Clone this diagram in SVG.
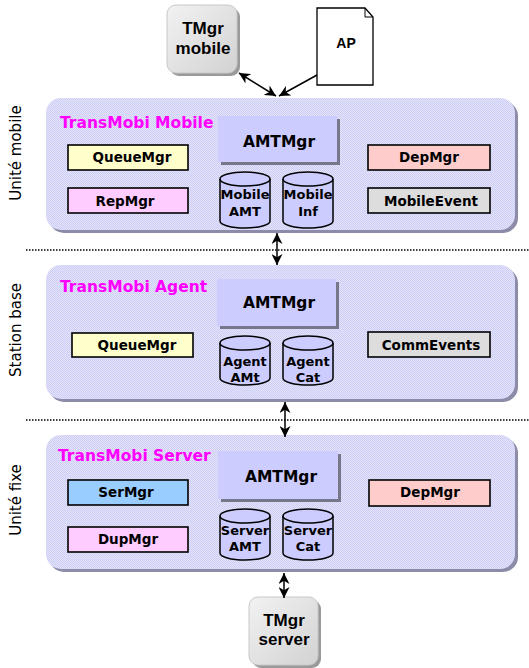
<svg xmlns="http://www.w3.org/2000/svg" width="529" height="668" viewBox="0 0 529 668">
<defs>
<pattern id="dots" width="2" height="2" patternUnits="userSpaceOnUse">
<rect width="2" height="2" fill="#E4E4FE"/>
<rect width="1" height="1" fill="#CDCDF2"/>
<rect x="1" y="1" width="1" height="1" fill="#CDCDF2"/>
</pattern>
<linearGradient id="gray" x1="0" y1="0" x2="1" y2="1">
<stop offset="0" stop-color="#F2F2F2"/>
<stop offset="1" stop-color="#D2D2D2"/>
</linearGradient>
<marker id="ah" viewBox="0 0 10 10" refX="10" refY="5" markerWidth="11" markerHeight="11" markerUnits="userSpaceOnUse" orient="auto-start-reverse">
<path d="M0,0 L10,5 L0,10 L3,5 z" fill="#000"/>
</marker>
<style>
.panelsh{fill:#8C8CA8}
.panel{fill:url(#dots)}
.title{font-family:"DejaVu Sans",Verdana,sans-serif;font-weight:bold;font-size:15.5px;fill:#FF00FF}
.amt{fill:#CCCCFF}
.amtsh{fill:#77778C}
.big{font-family:"DejaVu Sans",Verdana,sans-serif;font-weight:bold;font-size:15.5px;fill:#000;text-anchor:middle}
.box{stroke:#000;stroke-width:1.6}
.lbl{font-family:"DejaVu Sans",Verdana,sans-serif;font-weight:bold;font-size:13.5px;fill:#000;text-anchor:middle}
.cyl{fill:#CCCCFF;stroke:#000;stroke-width:1.5}
.cyt{font-family:"DejaVu Sans",Verdana,sans-serif;font-weight:bold;font-size:13px;fill:#000;text-anchor:middle}
.side{font-family:"DejaVu Sans",Verdana,sans-serif;font-size:15px;fill:#000;text-anchor:middle}
.tm{font-family:"Liberation Sans",Arial,sans-serif;font-weight:bold;font-size:17px;fill:#000;text-anchor:middle}
.dot{stroke:#000;stroke-width:1.5;stroke-dasharray:1.5 1.5;fill:none}
.con{stroke:#000;stroke-width:1.5;fill:none}
</style>
</defs>

<!-- side labels -->
<g id="side-labels">
<text class="side" transform="translate(21,153) rotate(-90)">Unité mobile</text>
<text class="side" transform="translate(21,330) rotate(-90)">Station base</text>
<text class="side" transform="translate(21,500) rotate(-90)">Unité fixe</text>
</g>

<!-- dotted separators -->
<g id="separators">
<line class="dot" x1="26" y1="250" x2="529" y2="250"/>
<line class="dot" x1="26" y1="420" x2="529" y2="420"/>
</g>

<!-- top external nodes -->
<g id="tmgr-mobile">
<rect x="170" y="8" width="70" height="68" rx="9" fill="#9A9A9A"/>
<rect x="167" y="5" width="70" height="68" rx="9" fill="url(#gray)" stroke="#C8C8C8" stroke-width="1"/>
<text class="tm" x="203" y="34">TMgr</text>
<text class="tm" x="203" y="54">mobile</text>
</g>
<g id="ap">
<path d="M317,8 H365 L373,17 V85 H317 Z" fill="#FFFFFF" stroke="#000" stroke-width="1.3"/>
<path d="M365,8 V17 H373" fill="none" stroke="#000" stroke-width="1"/>
<text x="346" y="48" font-family="Liberation Sans, Arial, sans-serif" font-weight="bold" font-size="14" text-anchor="middle">AP</text>
</g>

<!-- Panel 1 -->
<g id="panel-mobile">
<rect class="panelsh" x="49" y="101" width="469" height="132" rx="15"/>
<rect class="panel" x="46" y="98" width="469" height="132" rx="15"/>
<text class="title" x="60" y="128">TransMobi Mobile</text>
</g>
<g id="amtmgr-1">
<rect class="amtsh" x="221" y="119" width="119" height="46"/>
<rect class="amt" x="218" y="116" width="119" height="46"/>
<text class="big" x="279" y="147">AMTMgr</text>
</g>
<g id="queuemgr-1">
<rect class="box" x="68" y="145" width="120" height="25" fill="#FFFFCC"/>
<text class="lbl" x="132" y="162">QueueMgr</text>
</g>
<g id="repmgr-1">
<rect class="box" x="68" y="188" width="120" height="25" fill="#FFCCFF"/>
<text class="lbl" x="125" y="206">RepMgr</text>
</g>
<g id="depmgr-1">
<rect class="box" x="368" y="145" width="122" height="25" fill="#FFCCCC"/>
<text class="lbl" x="429" y="162">DepMgr</text>
</g>
<g id="mobileevent">
<rect class="box" x="368" y="188" width="122" height="25" fill="#DDDDDD"/>
<text class="lbl" x="431" y="206">MobileEvent</text>
</g>
<g id="mobile-amt">
<path class="cyl" d="M220,179 A25,7 0 0,1 270,179 V221 A25,7 0 0,1 220,221 Z"/>
<path class="cyl" d="M220,179 A25,7 0 0,0 270,179" fill="none"/>
<text class="cyt" x="245" y="199">Mobile</text>
<text class="cyt" x="245" y="216">AMT</text>
</g>
<g id="mobile-inf">
<path class="cyl" d="M283,179 A25,7 0 0,1 333,179 V221 A25,7 0 0,1 283,221 Z"/>
<path class="cyl" d="M283,179 A25,7 0 0,0 333,179" fill="none"/>
<text class="cyt" x="308" y="199">Mobile</text>
<text class="cyt" x="308" y="216">Inf</text>
</g>

<!-- Panel 2 -->
<g id="panel-agent">
<rect class="panelsh" x="49" y="268" width="469" height="134" rx="15"/>
<rect class="panel" x="46" y="265" width="469" height="134" rx="15"/>
<text class="title" x="60" y="292">TransMobi Agent</text>
</g>
<g id="amtmgr-2">
<rect class="amtsh" x="220" y="282" width="119" height="47"/>
<rect class="amt" x="217" y="279" width="119" height="47"/>
<text class="big" x="279" y="308">AMTMgr</text>
</g>
<g id="queuemgr-2">
<rect class="box" x="72" y="333" width="121" height="24" fill="#FFFFCC"/>
<text class="lbl" x="137" y="350">QueueMgr</text>
</g>
<g id="commevents">
<rect class="box" x="368" y="332" width="122" height="25" fill="#DDDDDD"/>
<text class="lbl" x="431" y="350">CommEvents</text>
</g>
<g id="agent-amt">
<path class="cyl" d="M220,343 A25,7 0 0,1 270,343 V378 A25,7 0 0,1 220,378 Z"/>
<path class="cyl" d="M220,343 A25,7 0 0,0 270,343" fill="none"/>
<text class="cyt" x="245" y="366">Agent</text>
<text class="cyt" x="245" y="382">AMt</text>
</g>
<g id="agent-cat">
<path class="cyl" d="M283,343 A25,7 0 0,1 333,343 V378 A25,7 0 0,1 283,378 Z"/>
<path class="cyl" d="M283,343 A25,7 0 0,0 333,343" fill="none"/>
<text class="cyt" x="308" y="366">Agent</text>
<text class="cyt" x="308" y="382">Cat</text>
</g>

<!-- Panel 3 -->
<g id="panel-server">
<rect class="panelsh" x="49" y="438" width="469" height="134" rx="15"/>
<rect class="panel" x="46" y="435" width="469" height="134" rx="15"/>
<text class="title" x="58" y="461">TransMobi Server</text>
</g>
<g id="amtmgr-3">
<rect class="amtsh" x="221" y="454" width="120" height="48"/>
<rect class="amt" x="218" y="451" width="120" height="48"/>
<text class="big" x="281" y="482">AMTMgr</text>
</g>
<g id="sermgr">
<rect class="box" x="68" y="480" width="120" height="25" fill="#99CCFF"/>
<text class="lbl" x="126" y="497">SerMgr</text>
</g>
<g id="dupmgr">
<rect class="box" x="68" y="527" width="120" height="25" fill="#FFCCFF"/>
<text class="lbl" x="128" y="544">DupMgr</text>
</g>
<g id="depmgr-3">
<rect class="box" x="369" y="480" width="121" height="26" fill="#FFCCCC"/>
<text class="lbl" x="430" y="497">DepMgr</text>
</g>
<g id="server-amt">
<path class="cyl" d="M220,516 A25,7 0 0,1 270,516 V553 A25,7 0 0,1 220,553 Z"/>
<path class="cyl" d="M220,516 A25,7 0 0,0 270,516" fill="none"/>
<text class="cyt" x="245" y="535">Server</text>
<text class="cyt" x="245" y="551">AMT</text>
</g>
<g id="server-cat">
<path class="cyl" d="M283,516 A25,7 0 0,1 333,516 V553 A25,7 0 0,1 283,553 Z"/>
<path class="cyl" d="M283,516 A25,7 0 0,0 333,516" fill="none"/>
<text class="cyt" x="308" y="535">Server</text>
<text class="cyt" x="308" y="551">Cat</text>
</g>

<!-- bottom node -->
<g id="tmgr-server">
<rect x="252" y="600" width="69" height="68" rx="9" fill="#9A9A9A"/>
<rect x="249" y="597" width="69" height="68" rx="9" fill="url(#gray)" stroke="#C8C8C8" stroke-width="1"/>
<text class="tm" x="284" y="626">TMgr</text>
<text class="tm" x="284" y="645">server</text>
</g>

<!-- connectors -->
<g id="connectors">
<line class="con" x1="239" y1="73" x2="276" y2="96" marker-start="url(#ah)" marker-end="url(#ah)"/>
<line class="con" x1="317" y1="75" x2="279" y2="96" marker-end="url(#ah)"/>
<line class="con" x1="277" y1="233" x2="277" y2="265" marker-start="url(#ah)" marker-end="url(#ah)"/>
<line class="con" x1="285" y1="402" x2="285" y2="437" marker-start="url(#ah)" marker-end="url(#ah)"/>
<line class="con" x1="284" y1="573" x2="284" y2="598" marker-start="url(#ah)" marker-end="url(#ah)"/>
</g>
</svg>
